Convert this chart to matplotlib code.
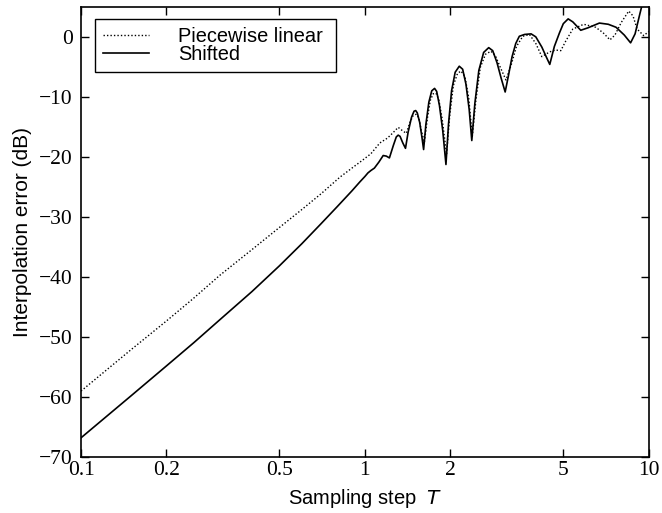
import matplotlib
matplotlib.use("Agg")
import matplotlib.pyplot as plt

# values (T, error in dB)
T_linear = [0.10, 0.15, 0.20, 0.248, 0.308, 0.40, 0.50, 0.60, 0.70, 0.817, 0.90, 0.986,
            1.05, 1.129, 1.20, 1.25, 1.31, 1.36, 1.40, 1.44, 1.48, 1.52, 1.55, 1.58,
            1.62, 1.66, 1.70, 1.74, 1.78, 1.82, 1.87, 1.94, 1.99, 2.05, 2.12, 2.18,
            2.25, 2.32, 2.39, 2.46, 2.55, 2.66, 2.78, 2.88, 3.00, 3.14, 3.28, 3.42,
            3.60, 3.80, 4.00, 4.20, 4.48, 4.70, 4.90, 5.10, 5.40, 5.90, 6.50, 6.90,
            7.30, 7.60, 8.00, 8.50, 8.80, 9.10, 9.60, 10.0]
err_linear = [-59.0, -52.1, -47.3, -43.6, -39.7, -35.4, -31.7, -28.7, -26.1, -23.3, -21.8, -20.4,
              -19.4, -17.6, -16.8, -16.0, -15.0, -15.6, -16.0, -14.2, -13.0, -12.8, -13.5, -15.5,
              -17.5, -13.5, -10.5, -9.4, -9.3, -10.3, -13.5, -19.5, -13.0, -8.0, -6.0, -5.6,
              -6.5, -10.0, -16.5, -10.5, -5.0, -2.8, -2.3, -3.0, -5.0, -7.1, -4.5, -1.5,
              0.2, 0.5, -1.0, -3.2, -2.4, -2.1, -2.2, -0.6, 1.4, 2.2, 1.7, 0.8,
              -0.4, 0.4, 2.5, 4.4, 3.6, 1.4, 0.3, 1.0]

T_shifted = [0.10, 0.15, 0.20, 0.25, 0.31, 0.40, 0.50, 0.60, 0.70, 0.80, 0.90, 0.96,
             1.00, 1.025, 1.05, 1.08, 1.12, 1.16, 1.19, 1.22, 1.26, 1.29, 1.31, 1.33,
             1.36, 1.39, 1.42, 1.46, 1.49, 1.51, 1.53, 1.56, 1.59, 1.61, 1.64, 1.68,
             1.72, 1.76, 1.79, 1.83, 1.88, 1.93, 1.97, 2.02, 2.08, 2.15, 2.21, 2.27,
             2.33, 2.38, 2.44, 2.52, 2.62, 2.73, 2.82, 2.92, 3.02, 3.12, 3.20, 3.30,
             3.40, 3.50, 3.65, 3.85, 4.00, 4.20, 4.35, 4.48, 4.65, 4.85, 5.00, 5.20,
             5.40, 5.76, 6.10, 6.70, 7.20, 7.67, 8.20, 8.63, 8.95, 9.30, 9.55, 10.0]
err_shifted = [-66.8, -59.8, -54.8, -50.9, -47.0, -42.4, -38.1, -34.4, -31.1, -28.2, -25.6, -24.1,
               -23.2, -22.6, -22.2, -21.8, -20.8, -19.7, -19.8, -20.1, -18.0, -16.6, -16.3, -16.5,
               -17.6, -18.5, -15.8, -13.3, -12.3, -12.2, -12.6, -14.2, -16.8, -18.7, -14.5, -10.8,
               -8.9, -8.5, -9.0, -11.3, -15.5, -21.2, -14.5, -8.9, -5.8, -4.8, -5.3, -7.8,
               -12.0, -17.2, -11.0, -5.5, -2.5, -1.7, -2.2, -4.2, -6.8, -9.1, -6.5, -3.2,
               -1.0, 0.2, 0.5, 0.6, 0.1, -1.6, -3.2, -4.5, -1.5, 0.8, 2.3, 3.1,
               2.6, 1.2, 1.6, 2.4, 2.2, 1.7, 0.4, -0.9, 0.6, 3.9, 6.1, 12.0]

x_ticks = [0.1, 0.2, 0.5, 1, 2, 5, 10]
x_ticklabels = ["0.1", "0.2", "0.5", "1", "2", "5", "10"]
y_ticks = [0, -10, -20, -30, -40, -50, -60, -70]

fig = plt.figure(figsize=(6.62, 5.13), dpi=100)
ax = fig.add_axes([0.1224, 0.1092, 0.8576, 0.8762])

ax.plot(T_linear, err_linear, color="black", linestyle=(0, (1, 1.5)), linewidth=1.0,
        label="Piecewise linear ")
ax.plot(T_shifted, err_shifted, color="black", linestyle="-", linewidth=1.2,
        label="Shifted")

ax.set_xscale("log")
ax.set_xlim(0.1, 10)
ax.set_ylim(-70, 5)
ax.set_xticks(x_ticks)
ax.set_xticklabels(x_ticklabels)
ax.set_yticks(y_ticks)
ax.minorticks_off()

for lab in ax.get_xticklabels() + ax.get_yticklabels():
    lab.set_fontfamily("Liberation Serif")
    lab.set_fontsize(15.5)

ax.tick_params(direction="in", length=6, width=1.0, top=True, right=True)
ax.tick_params(axis="x", pad=3)
ax.tick_params(axis="y", pad=6)
for s in ax.spines.values():
    s.set_linewidth(1.2)

ax.set_xlabel("Sampling step  $T$", fontfamily="Liberation Sans", fontsize=14.5, labelpad=5)
ax.set_ylabel("Interpolation error (dB)", fontfamily="Liberation Sans", fontsize=15, labelpad=5)

leg = ax.legend(loc="upper left", bbox_to_anchor=(0.0246, 0.974), borderaxespad=0,
                prop={"family": "Liberation Sans", "size": 14.4}, handlelength=2.3,
                handletextpad=1.45, labelspacing=-0.05, borderpad=0.4,
                fancybox=False, framealpha=1, edgecolor="black")
leg.get_frame().set_linewidth(1.0)

fig.savefig("out.png", dpi=100)
